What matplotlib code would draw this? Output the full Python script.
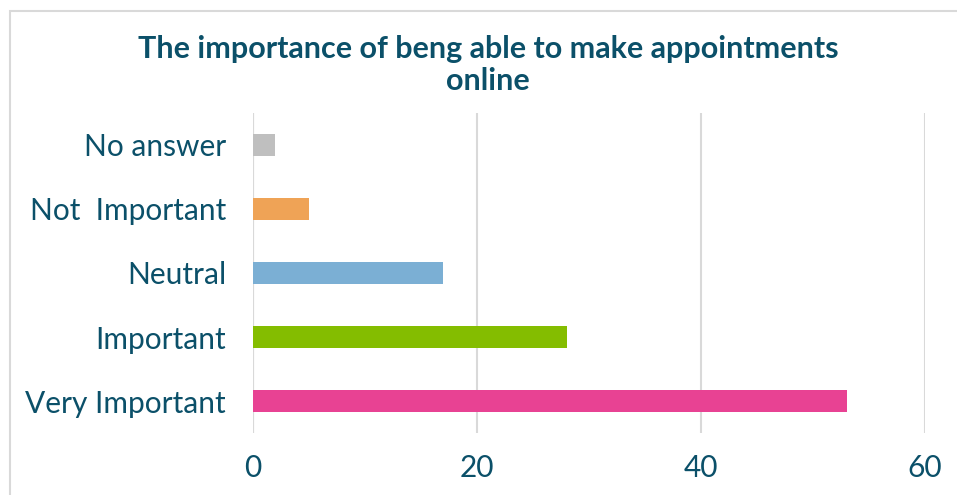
import matplotlib
matplotlib.use("Agg")
import matplotlib.pyplot as plt
from matplotlib.patches import Rectangle

categories = ["Very Important", "Important", "Neutral", "Not  Important", "No answer"]
values = [53, 28, 17, 5, 2]
colors = ["#e84293", "#84bd00", "#7bafd4", "#efa356", "#bfbfbf"]
xticks = [0, 20, 40, 60]

text_color = "#0b5069"
plt.rcParams["font.family"] = ["Lato", "DejaVu Sans"]

fig = plt.figure(figsize=(9.57, 4.95), dpi=100)
ax = fig.add_axes([253 / 957, 62 / 495, 672 / 957, 320 / 495])

# chart frame (cropped at right and bottom)
fig.patches.append(Rectangle((10 / 957, -0.1), 1.2, (495 - 11) / 495 + 0.1,
                             transform=fig.transFigure, fill=False,
                             edgecolor="#d9d9d9", linewidth=1.5))

ax.barh(range(len(categories)), values, height=0.35, color=colors, zorder=3)
ax.set_xlim(0, 60)
ax.set_ylim(-0.5, len(categories) - 0.5)
ax.set_xticks(xticks)
ax.set_yticks(range(len(categories)))
ax.set_yticklabels(categories)
ax.tick_params(axis="both", length=0, colors=text_color, labelsize=21.5)
ax.tick_params(axis="x", pad=15)
ax.tick_params(axis="y", pad=19.5)
ax.grid(axis="x", color="#d9d9d9", linewidth=1.5, zorder=0)
for s in ax.spines.values():
    s.set_visible(False)
ax.axvline(0, color="#d9d9d9", linewidth=1.5, zorder=1)

fig.text(488 / 957, 1 - 65 / 495, "The importance of beng able to make appointments\nonline",
         ha="center", va="center", fontsize=22, fontweight="bold",
         color=text_color, linespacing=1.2)

fig.savefig("out.png", dpi=100)
